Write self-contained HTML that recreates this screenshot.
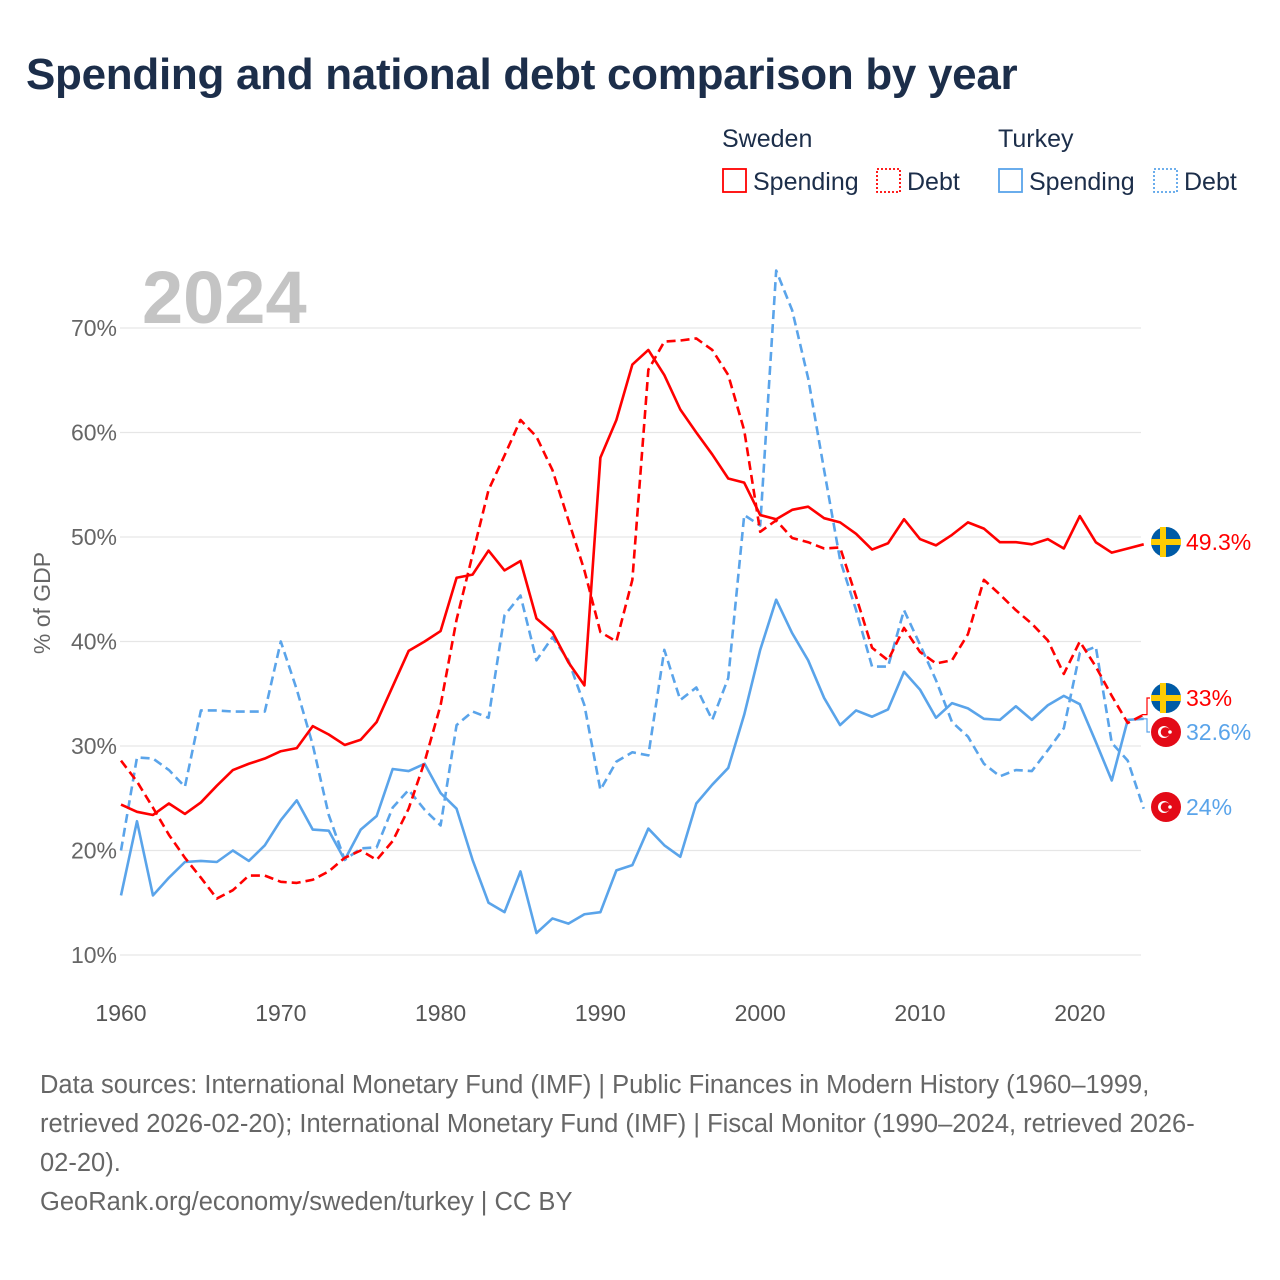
<!DOCTYPE html>
<html><head><meta charset="utf-8">
<style>
body{margin:0;background:#fff;font-family:"Liberation Sans",sans-serif;}
#wrap{position:relative;width:1280px;height:1280px;overflow:hidden;}
h1{position:absolute;left:26px;top:50px;margin:0;font-size:44px;font-weight:bold;color:#1c2e4a;letter-spacing:-0.3px;}
.src{position:absolute;left:40px;top:1066px;width:1188px;font-size:25.5px;line-height:39px;color:#666;}
</style></head><body>
<div id="wrap">
<h1>Spending and national debt comparison by year</h1>
<svg id="chart" width="1280" height="1280" style="position:absolute;left:0;top:0"></svg>
<div class="src">Data sources: International Monetary Fund (IMF) | Public Finances in Modern History (1960–1999, retrieved 2026-02-20); International Monetary Fund (IMF) | Fiscal Monitor (1990–2024, retrieved 2026-02-20).<br>GeoRank.org/economy/sweden/turkey | CC BY</div>
</div>
<script>
const years=[];for(let y=1960;y<=2024;y++)years.push(y);
const sweSpending=[24.4,23.7,23.4,24.5,23.5,24.6,26.2,27.7,28.3,28.8,29.5,29.8,31.9,31.1,30.1,30.6,32.3,35.7,39.1,40.0,41.0,46.1,46.4,48.7,46.8,47.7,42.2,40.9,38.0,35.8,57.6,61.2,66.5,67.9,65.5,62.2,60.0,57.9,55.6,55.2,52.1,51.7,52.6,52.9,51.8,51.4,50.3,48.8,49.4,51.7,49.8,49.2,50.2,51.4,50.8,49.5,49.5,49.3,49.8,48.9,52.0,49.5,48.5,48.9,49.3];
const sweDebt=[28.6,26.6,24.1,21.5,19.3,17.4,15.4,16.2,17.6,17.6,17.0,16.9,17.2,18.0,19.3,20.0,19.1,20.9,24.0,28.5,33.9,42.1,48.3,54.5,57.8,61.2,59.6,56.4,51.6,46.8,40.9,40.0,45.9,66.0,68.7,68.8,69.0,67.9,65.5,60.2,50.5,51.6,49.9,49.5,48.9,49.0,44.3,39.4,38.2,41.3,39.0,37.9,38.2,40.7,45.9,44.5,43.0,41.7,40.1,36.9,40.0,37.6,34.8,32.2,33.0];
const turSpending=[15.7,22.8,15.7,17.4,18.9,19.0,18.9,20.0,19.0,20.5,22.9,24.8,22.0,21.9,19.1,22.0,23.3,27.8,27.6,28.3,25.5,24.0,19.1,15.0,14.1,18.0,12.1,13.5,13.0,13.9,14.1,18.1,18.6,22.1,20.5,19.4,24.5,26.3,27.9,33.0,39.2,44.0,40.8,38.2,34.6,32.0,33.4,32.8,33.5,37.1,35.4,32.7,34.1,33.6,32.6,32.5,33.8,32.5,33.9,34.8,34.0,30.4,26.7,32.5,32.6];
const turDebt=[20.0,28.9,28.8,27.7,26.1,33.4,33.4,33.3,33.3,33.3,40.0,35.4,30.1,23.4,19.1,20.2,20.3,24.1,25.8,23.9,22.4,32.0,33.3,32.7,42.5,44.4,38.2,40.4,38.2,33.9,25.8,28.5,29.4,29.1,39.2,34.4,35.6,32.5,36.5,52.1,51.1,75.5,71.7,65.2,56.4,47.8,43.0,37.6,37.6,43.0,39.7,36.3,32.3,30.9,28.3,27.1,27.7,27.6,29.6,31.7,38.9,39.5,30.3,28.6,24.0];
const yTicks=[10,20,30,40,50,60,70];
const xTicks=[1960,1970,1980,1990,2000,2010,2020];
const X=y=>121+(y-1960)*15.98;
const Y=v=>955-(v-10)*10.45;
const svg=document.getElementById('chart');const NS='http://www.w3.org/2000/svg';
function mk(t,a,p){const e=document.createElementNS(NS,t);for(const k in a)e.setAttribute(k,a[k]);(p||svg).appendChild(e);return e;}
yTicks.forEach(v=>{
 const l=mk('line',{x1:120,x2:1141,y1:Y(v),y2:Y(v),stroke:'#e6e6e6','stroke-width':1.3});
 
 
 const t=mk('text',{x:117,y:Y(v)+8,'text-anchor':'end','font-size':23,fill:'#666'});t.textContent=v+'%';
 
 
});
xTicks.forEach(y=>{
 const t=mk('text',{x:X(y),y:1021,'text-anchor':'middle','font-size':23,fill:'#555'});t.textContent=y;
 
 
});
const yt=mk('text',{x:0,y:0,transform:'translate(50,603) rotate(-90)','text-anchor':'middle','font-size':23,fill:'#666'});yt.textContent='% of GDP';


const yr=mk('text',{x:142,y:323,'font-size':74,'font-weight':'bold',fill:'#c4c4c4'});yr.textContent='2024';


function series(arr,color,dash,name){
 const p=mk('polyline',{points:arr.map((v,i)=>X(years[i])+','+Y(v)).join(' '),fill:'none',stroke:color,'stroke-width':2.6,'stroke-linejoin':'round'});
 if(dash)p.setAttribute('stroke-dasharray','9,5');
 
 
}
series(turDebt,'#5aa4ea',true,'turkey-debt-line');
series(turSpending,'#5aa4ea',false,'turkey-spending-line');
series(sweDebt,'#ff0000',true,'sweden-debt-line');
series(sweSpending,'#ff0000',false,'sweden-spending-line');
function flag(cx,cy,swe){
 const g=mk('g',{});
 
 
 if(swe){mk('circle',{cx,cy,r:15,fill:'#005ba6'},g);mk('rect',{x:cx-15,y:cy-3,width:30,height:6,fill:'#fecc02'},g);mk('rect',{x:cx-6,y:cy-15,width:6,height:30,fill:'#fecc02'},g);}
 else{mk('circle',{cx,cy,r:15,fill:'#e30a17'},g);mk('circle',{cx:cx-2,cy,r:6,fill:'#fff'},g);mk('circle',{cx:cx-0.5,cy,r:4.8,fill:'#e30a17'},g);mk('circle',{cx:cx+4,cy,r:1.8,fill:'#fff'},g);}
}
const last=years.length-1;
const labs=[[sweSpending[last],542,true,'#ff0000','49.3%','sweden-spending-label'],[sweDebt[last],698,true,'#ff0000','33%','sweden-debt-label'],[turSpending[last],732,false,'#5aa4ea','32.6%','turkey-spending-label'],[turDebt[last],807,false,'#5aa4ea','24%','turkey-debt-label']];
labs.forEach(([v,ly,swe,c,txt,n])=>{
 if(Math.abs(Y(v)-ly)>3){const cl=mk('polyline',{points:`1142,${Y(v)} 1147,${Y(v)} 1147,${ly} 1150,${ly}`,fill:'none',stroke:c,'stroke-width':1.2});}
 flag(1166,ly,swe);
 const t=mk('text',{x:1186,y:ly+8,'font-size':23,fill:c});t.textContent=txt;
 
 
});
function ltxt(x,y,s,n){const t=mk('text',{x,y,'font-size':25,fill:'#1c2e4a'});t.textContent=s;}
ltxt(722,147,'Sweden','legend-sweden-title');
ltxt(998,147,'Turkey','legend-turkey-title');
function lbox(x,c,dash,label,n){
 const g=mk('g',{});
 
 
 const r=mk('rect',{x:x,y:169,width:23,height:23,fill:'none',stroke:c,'stroke-width':1.8},g);
 if(dash)r.setAttribute('stroke-dasharray','2,2');
 const t=mk('text',{x:x+30,y:190,'font-size':25,fill:'#1c2e4a'},g);t.textContent=label;
}
lbox(723,'#ff0000',false,'Spending','legend-sweden-spending');
lbox(877,'#ff0000',true,'Debt','legend-sweden-debt');
lbox(999,'#5aa4ea',false,'Spending','legend-turkey-spending');
lbox(1154,'#5aa4ea',true,'Debt','legend-turkey-debt');
</script>
</body></html>
